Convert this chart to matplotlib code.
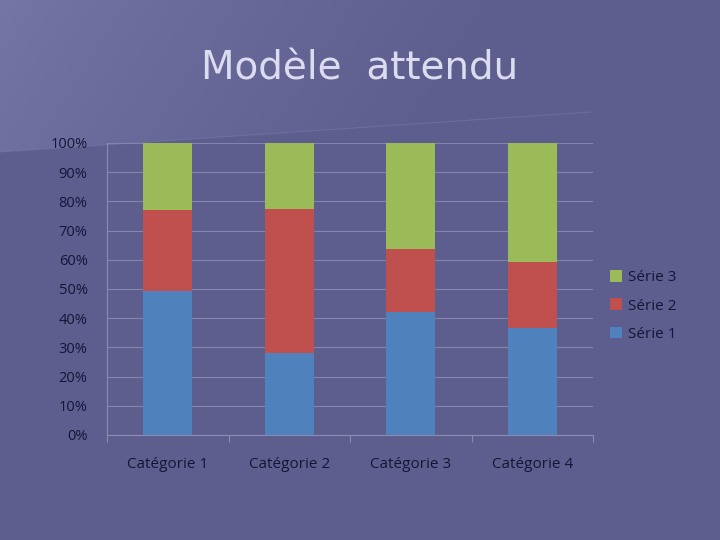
import numpy as np
import matplotlib.pyplot as plt
from matplotlib.patches import Polygon

categories = ['Catégorie 1', 'Catégorie 2', 'Catégorie 3', 'Catégorie 4']
serie1 = [4.3, 2.5, 3.5, 4.5]
serie2 = [2.4, 4.4, 1.8, 2.8]
serie3 = [2.0, 2.0, 3.0, 5.0]
series_names = ['Série 1', 'Série 2', 'Série 3']
colors = ['#4F81BD', '#C0504D', '#9BBB59']
yticks = [0, 10, 20, 30, 40, 50, 60, 70, 80, 90, 100]

W, H = 720, 540
fig = plt.figure(figsize=(7.2, 5.4), dpi=100)
fig.patch.set_facecolor('#5E5E8E')

# slide background: lighter gradient above a slanted line
bg = fig.add_axes([0, 0, 1, 1], zorder=-10)
bg.set_xlim(0, W)
bg.set_ylim(H, 0)
bg.axis('off')
xx, yy = np.meshgrid(np.linspace(0, 1, 200), np.linspace(0, 1, 100))
t = np.clip(xx * 1.4 + yy * 0.2, 0, 1) ** 0.8
c0 = np.array([0x76, 0x76, 0xA6]) / 255
c1 = np.array([0x5E, 0x5E, 0x8E]) / 255
img = c0[None, None, :] * (1 - t[..., None]) + c1[None, None, :] * t[..., None]
im = bg.imshow(img, extent=[0, W, 160, 0], aspect='auto', zorder=0)
clip = Polygon([(0, 0), (W, 0), (W, 100), (590, 112), (0, 152)], closed=True,
               transform=bg.transData, facecolor='none', edgecolor='none')
bg.add_patch(clip)
im.set_clip_path(clip)
bg.plot([0, 590], [152, 112], color='#7C7CAA', lw=0.8, alpha=0.5)

fig.text(0.5, 1 - 69 / H, 'Modèle  attendu', ha='center', va='center',
         fontsize=28, color='#DCDCF0', family='DejaVu Sans')

ax = fig.add_axes([107 / W, 1 - 435 / H, (593 - 107) / W, (435 - 143) / H])
ax.set_facecolor('none')

totals = np.array(serie1) + np.array(serie2) + np.array(serie3)
x = np.arange(len(categories))
bottom = np.zeros(len(categories))
for name, vals, col in zip(series_names, [serie1, serie2, serie3], colors):
    pct = np.array(vals) / totals * 100
    ax.bar(x, pct, bottom=bottom, width=0.4, color=col, label=name, zorder=3)
    bottom += pct

ax.set_xlim(-0.48, len(categories) - 0.52)
ax.set_ylim(0, 100)
ax.set_yticks(yticks)
ax.set_yticklabels([f'{v}%' for v in yticks], fontsize=10.5, color='#15153A',
                   family='Open Sans')
ax.set_xticks(x)
ax.set_xticklabels(categories, fontsize=11, color='#15153A', family='Open Sans')
ax.tick_params(axis='y', length=0, pad=14)
ax.tick_params(axis='x', length=0, pad=16)
ax.set_xticks(np.arange(-0.5, len(categories)), minor=True)
ax.tick_params(axis='x', which='minor', length=5, color='#8C8CB2', width=0.8)
ax.grid(axis='y', color='#8484AC', lw=0.8, zorder=0)
for s in ['top', 'right']:
    ax.spines[s].set_visible(False)
ax.spines['left'].set_color('#8C8CB2')
ax.spines['bottom'].set_color('#8C8CB2')
ax.spines['left'].set_linewidth(0.8)
ax.spines['bottom'].set_linewidth(0.8)

handles, labels = ax.get_legend_handles_labels()
leg = fig.legend(handles[::-1], labels[::-1], loc='center left',
                 bbox_to_anchor=(596 / W, 1 - 306 / H), frameon=False,
                 prop={'family': 'Open Sans', 'size': 11}, labelcolor='#15153A',
                 handlelength=0.8, handleheight=0.8, handletextpad=0.4,
                 labelspacing=0.85)

fig.savefig('out.png', dpi=100, facecolor=fig.get_facecolor())
